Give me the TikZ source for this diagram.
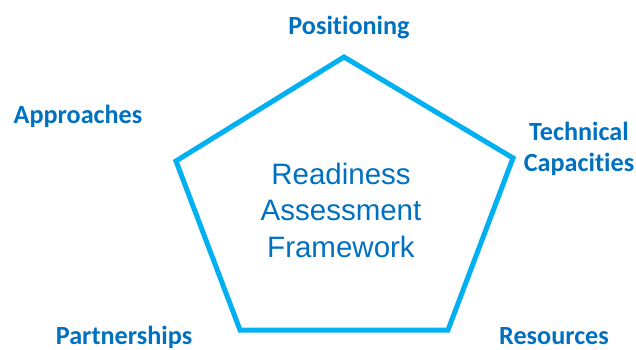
\documentclass[tikz,border=0pt]{standalone}
\usepackage{fontspec}
\setmainfont[Ligatures=NoCommon]{Carlito}
\newfontfamily\centrefont{Liberation Sans}
\definecolor{labelblue}{HTML}{0070C0}
\definecolor{edgeblue}{HTML}{00B0F0}
\begin{document}
\begin{tikzpicture}[x=1pt,y=-1pt,
  corner/.style={font=\bfseries\fontsize{26.2}{30}\selectfont, text=labelblue, anchor=base, inner sep=0pt, align=center},
  centretext/.style={font=\centrefont\fontsize{29.5}{36.5}\selectfont, text=labelblue, align=center, inner sep=0pt},
  rim/.style={draw=edgeblue, line width=5pt, line join=miter}]
  \useasboundingbox (0,0) rectangle (636,349);
  % pentagon corners
  \coordinate (pTop) at (344,57);
  \coordinate (pRight) at (513,158);
  \coordinate (pBotR) at (448,330);
  \coordinate (pBotL) at (240,330);
  \coordinate (pLeft) at (176,161);
  \draw[rim] (pTop) -- (pRight) -- (pBotR) -- (pBotL) -- (pLeft) -- cycle;
  % centre title
  \node[centretext] (title) at (341,210) {Readiness\\Assessment\\Framework};
  % labels at the corners
  \node[corner] (positioning) at (349,34) {Positioning};
  \node[corner] (approaches) at (78,123) {Approaches};
  \node[corner] (technical) at (579,140) {Technical};
  \node[corner] (capacities) at (579,171) {Capacities};
  \node[corner] (partnerships) at (124,344) {Partnerships};
  \node[corner] (resources) at (554,344) {Resources};
\end{tikzpicture}
\end{document}
